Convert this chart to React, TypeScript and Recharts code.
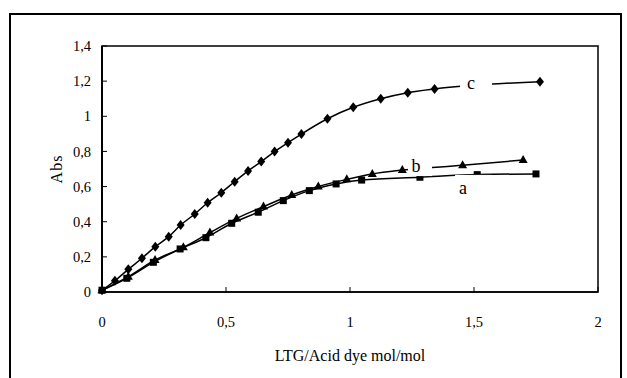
import React from 'react';
import { ComposedChart, Line, XAxis, YAxis, ReferenceArea, ReferenceDot, Label } from 'recharts';

// Series a (squares)
const aX = [0, 0.1, 0.207, 0.315, 0.419, 0.523, 0.63, 0.731, 0.836, 0.944, 1.047, 1.282, 1.513, 1.75];
const aY = [0.01, 0.078, 0.169, 0.245, 0.309, 0.391, 0.454, 0.52, 0.577, 0.615, 0.637, 0.653, 0.668, 0.672];
// Series b (triangles)
const bX = [0, 0.106, 0.214, 0.328, 0.435, 0.543, 0.651, 0.765, 0.872, 0.987, 1.09, 1.211, 1.454, 1.698];
const bY = [0.01, 0.087, 0.182, 0.254, 0.338, 0.419, 0.486, 0.552, 0.6, 0.641, 0.672, 0.694, 0.721, 0.751];
// Series c (diamonds)
const cX = [0, 0.052, 0.106, 0.161, 0.215, 0.269, 0.317, 0.374, 0.426, 0.481, 0.535, 0.589, 0.642, 0.696, 0.75, 0.804, 0.909, 1.013, 1.124, 1.233, 1.341, 1.766];
const cY = [0.01, 0.064, 0.129, 0.192, 0.258, 0.315, 0.381, 0.444, 0.508, 0.565, 0.628, 0.689, 0.742, 0.799, 0.85, 0.899, 0.986, 1.051, 1.1, 1.134, 1.155, 1.197];

const xTicks = [0, 0.5, 1, 1.5, 2];
const yTicks = [0, 0.2, 0.4, 0.6, 0.8, 1, 1.2, 1.4];
const curveNames = ['a', 'b', 'c'];
const curveTagX = [1.456, 1.266, 1.488];
const curveTagY = [0.58, 0.711, 1.175];

const xTitle = 'LTG/Acid dye mol/mol';
const yTitle = 'Abs';

const FONT = "'Liberation Serif', 'Times New Roman', serif";

const rows = (xs: number[], ys: number[]) => xs.map((x, i) => ({ x, y: ys[i] }));
const dataA = rows(aX, aY);
const dataB = rows(bX, bY);
const dataC = rows(cX, cY);

const fmt = (v: number) => String(v).replace('.', ',');

const SquareDot = (p: any) => {
  if (p.cx == null || p.cy == null) return <g key={p.index} />;
  return <rect key={p.index} x={p.cx - 3.5} y={p.cy - 3.5} width={7} height={7} fill="#000" />;
};
const TriangleDot = (p: any) => {
  if (p.cx == null || p.cy == null) return <g key={p.index} />;
  const { cx, cy } = p;
  return <polygon key={p.index} points={`${cx},${cy - 5} ${cx - 4.5},${cy + 3} ${cx + 4.5},${cy + 3}`} fill="#000" />;
};
const DiamondDot = (p: any) => {
  if (p.cx == null || p.cy == null) return <g key={p.index} />;
  const { cx, cy } = p;
  return <polygon key={p.index} points={`${cx},${cy - 5} ${cx + 4},${cy} ${cx},${cy + 5} ${cx - 4},${cy}`} fill="#000" />;
};

// tag box geometry (relative offsets) for each curve label
const tagBoxes = [
  { l: -8, r: 29, t: -15.2, b: 12, base: 4 },
  { l: -8, r: 16, t: -9, b: 9, base: 5 },
  { l: -11, r: 21, t: -8, b: 8, base: 3 },
];

const makeTag = (i: number) => (p: any) => {
  const bx = tagBoxes[i];
  if (p.cx == null) return <g />;
  return (
    <g>
      <rect x={p.cx + bx.l} y={p.cy + bx.t} width={bx.r - bx.l} height={bx.b - bx.t} fill="#fff" />
      <text x={p.cx} y={p.cy + bx.base} textAnchor="middle" fontFamily={FONT} fontSize={18} fill="#000">
        {curveNames[i]}
      </text>
    </g>
  );
};

export default function App() {
  const tickStyle = { fill: '#000', fontSize: 14.5, fontFamily: FONT };
  return (
    <div style={{ position: 'absolute', left: 0, top: 0, width: 627, height: 378, background: '#fff', overflow: 'hidden' }}>
      <div
        style={{
          position: 'absolute',
          left: 9,
          top: 13,
          width: 613,
          height: 420,
          border: '2px solid #000',
          boxSizing: 'border-box',
        }}
      />
      <div style={{ position: 'absolute', left: 0, top: 0 }}>
        <ComposedChart width={627} height={378} margin={{ top: 46, right: 29, bottom: 36, left: 42 }}>
          <ReferenceArea x1={0} x2={2} y1={0} y2={1.4} fill="none" stroke="#000" strokeWidth={1.5} ifOverflow="extendDomain" />
          <XAxis
            type="number"
            dataKey="x"
            domain={[0, 2]}
            ticks={xTicks}
            interval={0}
            tickFormatter={fmt}
            tickSize={-5}
            tickMargin={30}
            height={50}
            axisLine={{ stroke: '#000', strokeWidth: 1.5 }}
            tickLine={{ stroke: '#000', strokeWidth: 1 }}
            tick={tickStyle}
            allowDuplicatedCategory={false}
          >
            <Label value={xTitle} position="bottom" offset={8} style={{ fill: '#000', fontSize: 16, fontFamily: FONT }} />
          </XAxis>
          <YAxis
            type="number"
            domain={[0, 1.4]}
            ticks={yTicks}
            interval={0}
            tickFormatter={fmt}
            tickSize={-5}
            tickMargin={16}
            width={60}
            axisLine={{ stroke: '#000', strokeWidth: 2 }}
            tickLine={{ stroke: '#000', strokeWidth: 1 }}
            tick={tickStyle}
          >
            <Label
              value={yTitle}
              angle={-90}
              position="insideLeft"
              offset={14}
              style={{ fill: '#000', fontSize: 16, fontFamily: FONT, textAnchor: 'middle', letterSpacing: 1 }}
            />
          </YAxis>
          <Line data={dataA} dataKey="y" type="monotone" stroke="#000" strokeWidth={1.5} dot={SquareDot} activeDot={false} isAnimationActive={false} />
          <Line data={dataB} dataKey="y" type="monotone" stroke="#000" strokeWidth={1.5} dot={TriangleDot} activeDot={false} isAnimationActive={false} />
          <Line data={dataC} dataKey="y" type="monotone" stroke="#000" strokeWidth={1.5} dot={DiamondDot} activeDot={false} isAnimationActive={false} />
          {curveNames.map((n, i) => (
            <ReferenceDot key={n} x={curveTagX[i]} y={curveTagY[i]} r={0} shape={makeTag(i)} />
          ))}
        </ComposedChart>
      </div>
    </div>
  );
}
